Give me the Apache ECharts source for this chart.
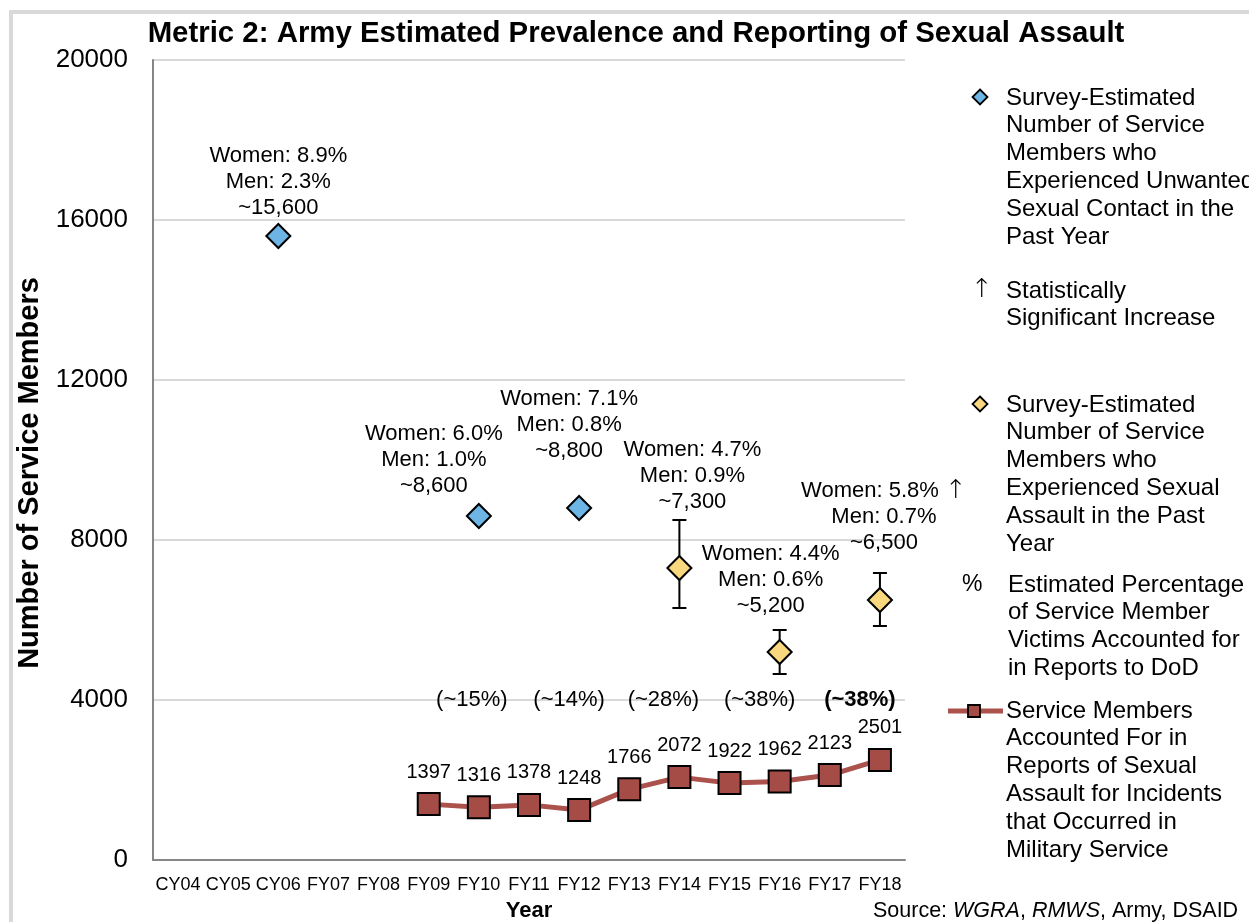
<!DOCTYPE html>
<html>
<head>
<meta charset="utf-8">
<title>Army Estimated Prevalence and Reporting of Sexual Assault</title>
<script src="https://cdn.jsdelivr.net/npm/echarts@6/dist/echarts.min.js"></script>
<style>
  html, body { margin: 0; padding: 0; background: #fff; }
  #chart { width: 1249px; height: 922px; }
</style>
</head>
<body>
<div id="chart"></div>
<script>
  const years = ['CY04', 'CY05', 'CY06', 'FY07', 'FY08', 'FY09', 'FY10', 'FY11', 'FY12', 'FY13', 'FY14', 'FY15', 'FY16', 'FY17', 'FY18'];
  const yTicks = [0, 4000, 8000, 12000, 16000, 20000];

  // survey estimate, unwanted sexual contact (blue diamonds)
  const unwantedValues = ['-', '-', 15600, '-', '-', '-', 8600, '-', 8800, '-', '-', '-', '-', '-', '-'];
  const unwantedLabels = ['', '', 'Women: 8.9%\nMen: 2.3%\n~15,600', '', '', '', 'Women: 6.0%\nMen: 1.0%\n~8,600', '', 'Women: 7.1%\nMen: 0.8%\n~8,800', '', '', '', '', '', ''];

  // survey estimate, sexual assault (yellow diamonds) with error bars
  const assaultValues = ['-', '-', '-', '-', '-', '-', '-', '-', '-', '-', 7300, '-', 5200, '-', 6500];
  const assaultLow = ['-', '-', '-', '-', '-', '-', '-', '-', '-', '-', 6300, '-', 4650, '-', 5850];
  const assaultHigh = ['-', '-', '-', '-', '-', '-', '-', '-', '-', '-', 8500, '-', 5750, '-', 7175];
  const assaultLabels = ['', '', '', '', '', '', '', '', '', '', 'Women: 4.7%\nMen: 0.9%\n~7,300', '', 'Women: 4.4%\nMen: 0.6%\n~5,200', '', 'Women: 5.8% {up|\u2191}\nMen: 0.7%\n~6,500'];

  // service members accounted for in reports (red line)
  const reportValues = ['-', '-', '-', '-', '-', 1397, 1316, 1378, 1248, 1766, 2072, 1922, 1962, 2123, 2501];

  // estimated % of victims accounted for
  const pctLabels = ['', '', '', '', '', '', '(~15%)', '', '(~14%)', '', '(~28%)', '', '(~38%)', '', '(~38%)'];
  const pctBold = ['FY18'];
  const pctLevel = 4000;

  const FONT = "'Liberation Sans', Arial, sans-serif";
  const blue = '#6cb5e4';
  const yellow = '#f8d77f';
  const red = '#a54c47';
  const lineRed = '#ab524d';

  // nudges for the annotations
  const nudge = {
    CY06: [0, -2], FY10: [-45, -4], FY12: [-10, -31],
    FY14: [13, -40], FY16: [-9, -20], FY18: [4, -31]
  };
  const pctNudge = { FY10: -7, FY12: -10, FY14: -16, FY16: -20, FY18: -20 };

  const chartDom = document.getElementById('chart');
  const myChart = echarts.init(chartDom);

  const annotated = (values, labels) => values.map((v, i) => {
    if (v === '-') return '-';
    const off = nudge[years[i]] || [0, 0];
    return {
      value: v,
      label: { show: true, formatter: labels[i], offset: off }
    };
  });

  const pctData = pctLabels.map((t, i) => {
    if (!t) return '-';
    const bold = pctBold.indexOf(years[i]) >= 0;
    return {
      value: pctLevel,
      label: {
        show: true, formatter: t,
        fontWeight: bold ? 'bold' : 'normal',
        offset: [pctNudge[years[i]] || 0, 0]
      }
    };
  });

  const errData = years.map((y, i) => assaultLow[i] === '-' ? null : [i, assaultLow[i], assaultHigh[i]]).filter(d => d);

  const annLabel = {
    position: 'top',
    distance: 0,
    fontFamily: FONT,
    fontSize: 22,
    lineHeight: 26,
    color: '#000',
    align: 'center',
    rich: {
      up: { fontFamily: "'DejaVu Sans', sans-serif", fontSize: 26, fontWeight: 200, color: '#000', lineHeight: 26 }
    }
  };

  // legend drawn by hand
  const legX = 1006;
  const legFont = { fontFamily: FONT, fontSize: 24, lineHeight: 27.8, fill: '#000' };
  const legText = (x, y, t) => ({
    type: 'text', left: x, top: y,
    style: Object.assign({ text: t }, legFont)
  });
  const diamond = (y, color) => ({
    type: 'polygon',
    shape: { points: [[980, y - 7.5], [987.5, y], [980, y + 7.5], [972.5, y]] },
    style: { fill: color, stroke: '#000', lineWidth: 1.8 }
  });

  let option = {
    animation: false,
    textStyle: { fontFamily: FONT },
    title: {
      text: 'Metric 2: Army Estimated Prevalence and Reporting of Sexual Assault',
      left: 631, top: 14, textAlign: 'center',
      textStyle: { fontFamily: FONT, fontSize: 29.4, fontWeight: 'bold', color: '#000' }
    },
    grid: { left: 153, top: 60, right: 344, bottom: 62, containLabel: false, outerBoundsMode: 'none' },
    xAxis: {
      type: 'category',
      data: years,
      boundaryGap: true,
      name: 'Year',
      nameLocation: 'middle',
      nameGap: 40,
      nameTextStyle: { fontFamily: FONT, fontSize: 22, fontWeight: 'bold', color: '#000' },
      axisLine: { show: true, lineStyle: { color: '#868686', width: 2 } },
      axisTick: { show: false },
      axisLabel: { fontFamily: FONT, fontSize: 18, color: '#000', margin: 16, interval: 0 },
      splitLine: { show: false }
    },
    yAxis: {
      type: 'value',
      min: yTicks[0],
      max: yTicks[yTicks.length - 1],
      interval: 4000,
      name: 'Number of Service Members',
      nameLocation: 'middle',
      nameGap: 94,
      nameRotate: 90,
      nameTextStyle: { fontFamily: FONT, fontSize: 29, fontWeight: 'bold', color: '#000', padding: [0, 26, 0, 0] },
      axisLine: { show: true, lineStyle: { color: '#868686', width: 2 } },
      axisTick: { show: false },
      axisLabel: { fontFamily: FONT, fontSize: 26, color: '#000', margin: 25, formatter: v => String(v) },
      splitLine: { show: true, lineStyle: { color: '#d9d9d9', width: 2 } }
    },
    series: [
      {
        name: 'Unwanted Sexual Contact',
        type: 'scatter',
        data: annotated(unwantedValues, unwantedLabels),
        symbol: 'diamond',
        symbolSize: [24, 24],
        itemStyle: { color: blue, borderColor: '#000', borderWidth: 2, opacity: 1 },
        label: annLabel,
        z: 4
      },
      {
        name: 'Error Bars',
        type: 'custom',
        data: errData,
        renderItem: function (params, api) {
          const x = api.value(0);
          const lo = api.coord([x, api.value(1)]);
          const hi = api.coord([x, api.value(2)]);
          const cap = 7;
          const st = { stroke: '#000', lineWidth: 2 };
          return {
            type: 'group',
            children: [
              { type: 'line', shape: { x1: lo[0], y1: lo[1], x2: hi[0], y2: hi[1] }, style: st },
              { type: 'line', shape: { x1: lo[0] - cap, y1: lo[1], x2: lo[0] + cap, y2: lo[1] }, style: st },
              { type: 'line', shape: { x1: hi[0] - cap, y1: hi[1], x2: hi[0] + cap, y2: hi[1] }, style: st }
            ]
          };
        },
        z: 3
      },
      {
        name: 'Sexual Assault',
        type: 'scatter',
        data: annotated(assaultValues, assaultLabels),
        symbol: 'diamond',
        symbolSize: [24, 24],
        itemStyle: { color: yellow, borderColor: '#000', borderWidth: 2, opacity: 1 },
        label: annLabel,
        z: 4
      },
      {
        name: 'Percent Accounted',
        type: 'scatter',
        data: pctData,
        symbolSize: 0,
        itemStyle: { opacity: 1 },
        label: {
          position: 'inside',
          fontFamily: FONT,
          fontSize: 22,
          color: '#000',
          opacity: 1
        },
        z: 5
      },
      {
        name: 'Reports',
        type: 'line',
        data: reportValues,
        symbol: 'rect',
        symbolSize: 22,
        showAllSymbol: true,
        lineStyle: { color: lineRed, width: 5 },
        itemStyle: { color: red, borderColor: '#000', borderWidth: 2 },
        label: {
          show: true,
          position: 'top',
          distance: 10,
          fontFamily: FONT,
          fontSize: 20,
          color: '#000'
        },
        z: 4
      }
    ],
    graphic: [
      {
        type: 'rect', shape: { x: 11, y: 12, width: 1400, height: 1100 },
        style: { fill: 'none', stroke: '#d9d9d9', lineWidth: 4 }, silent: true, z: -10
      },
      diamond(97, blue),
      legText(legX, 84, 'Survey-Estimated\nNumber of Service\nMembers who\nExperienced Unwanted\nSexual Contact in the\nPast Year'),
      {
        type: 'text', left: 971, top: 277,
        style: { text: '\u2191', fontFamily: "'DejaVu Sans', sans-serif", fontSize: 26, fontWeight: 200, fill: '#000' }
      },
      legText(legX, 277, 'Statistically\nSignificant Increase'),
      diamond(404, yellow),
      legText(legX, 391, 'Survey-Estimated\nNumber of Service\nMembers who\nExperienced Sexual\nAssault in the Past\nYear'),
      {
        type: 'text', left: 962, top: 573,
        style: { text: '%', fontFamily: FONT, fontSize: 23, fill: '#000' }
      },
      legText(1008, 571, 'Estimated Percentage\nof Service Member\nVictims Accounted for\nin Reports to DoD'),
      {
        type: 'line', shape: { x1: 948, y1: 711, x2: 1003, y2: 711 },
        style: { stroke: lineRed, lineWidth: 5 }
      },
      {
        type: 'rect', shape: { x: 968, y: 705, width: 12, height: 12 },
        style: { fill: red, stroke: '#000', lineWidth: 1.8 }
      },
      legText(legX, 697, 'Service Members\nAccounted For in\nReports of Sexual\nAssault for Incidents\nthat Occurred in\nMilitary Service'),
      {
        type: 'text', left: 873, top: 900,
        style: {
          text: '{n|Source: }{i|WGRA}{n|, }{i|RMWS}{n|, Army, DSAID}',
          rich: {
            n: { fontFamily: FONT, fontSize: 21.5, fill: '#000' },
            i: { fontFamily: FONT, fontSize: 21.5, fontStyle: 'italic', fill: '#000' }
          }
        }
      }
    ]
  };

  myChart.setOption(option);
</script>
</body>
</html>
